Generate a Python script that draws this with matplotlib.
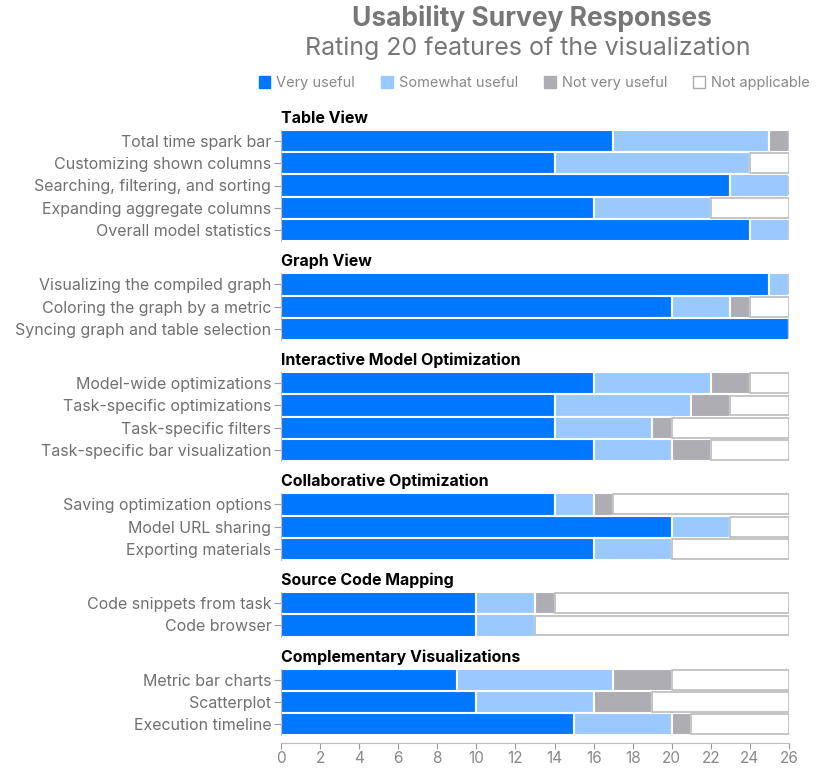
import matplotlib.pyplot as plt
from matplotlib.patches import Patch

plt.rcParams['font.family'] = ['Inter', 'DejaVu Sans']

# Survey data (counts of 26 participants)
groups = ['Table View', 'Graph View', 'Interactive Model Optimization',
          'Collaborative Optimization', 'Source Code Mapping',
          'Complementary Visualizations']
features = [
    ['Total time spark bar', 'Customizing shown columns',
     'Searching, filtering, and sorting', 'Expanding aggregate columns',
     'Overall model statistics'],
    ['Visualizing the compiled graph', 'Coloring the graph by a metric',
     'Syncing graph and table selection'],
    ['Model-wide optimizations', 'Task-specific optimizations',
     'Task-specific filters', 'Task-specific bar visualization'],
    ['Saving optimization options', 'Model URL sharing', 'Exporting materials'],
    ['Code snippets from task', 'Code browser'],
    ['Metric bar charts', 'Scatterplot', 'Execution timeline'],
]
very_useful = [[17, 14, 23, 16, 24], [25, 20, 26], [16, 14, 14, 16],
               [14, 20, 16], [10, 10], [9, 10, 15]]
somewhat_useful = [[8, 10, 3, 6, 2], [1, 3, 0], [6, 7, 5, 4],
                   [2, 3, 4], [3, 3], [8, 6, 5]]
not_very_useful = [[1, 0, 0, 0, 0], [0, 1, 0], [2, 2, 1, 2],
                   [1, 0, 0], [1, 0], [3, 3, 1]]
not_applicable = [[0, 2, 0, 4, 0], [0, 2, 0], [2, 3, 6, 4],
                  [9, 3, 6], [12, 13], [6, 7, 5]]

categories = ['Very useful', 'Somewhat useful', 'Not very useful', 'Not applicable']
colors = ['#0077ff', '#99c9ff', '#aeadb3', '#ffffff']
x_ticks = list(range(0, 27, 2))

W, H = 830, 768
fig = plt.figure(figsize=(W / 100, H / 100), dpi=100)

fig.text(532 / W, 1 - 18 / H, 'Usability Survey Responses', ha='center', va='center',
         fontsize=19, fontweight='bold', color='#777777')
fig.text(528 / W, 1 - 48 / H, 'Rating 20 features of the visualization', ha='center',
         va='center', fontsize=18, color='#777777')

handles = [Patch(facecolor=c, edgecolor=('#aaaaaa' if c == '#ffffff' else c), label=l)
           for c, l in zip(colors, categories)]
fig.legend(handles=handles, loc='center', bbox_to_anchor=(534 / W, 1 - 83 / H), ncol=4,
           frameon=False, fontsize=10.5, labelcolor='#888888', handlelength=0.8,
           handleheight=0.8, handletextpad=0.4, columnspacing=1.8)

row_h = 22.2
gap = 32.3
top = 130
left, width = 281, 508

for gi, group in enumerate(groups):
    n = len(features[gi])
    h = n * row_h
    ax = fig.add_axes([left / W, 1 - (top + h) / H, width / W, h / H])
    y = list(range(n))
    start = [0] * n
    series = [very_useful[gi], somewhat_useful[gi], not_very_useful[gi], not_applicable[gi]]
    for k, vals in enumerate(series):
        if k == 3:
            ax.barh(y, vals, left=start, height=0.9, color=colors[k],
                    edgecolor='#bbbbbb', linewidth=1.2)
        else:
            ax.barh(y, vals, left=start, height=1.0, color=colors[k],
                    edgecolor='white', linewidth=1.5)
        start = [s + v for s, v in zip(start, vals)]

    ax.set_xlim(0, 26)
    ax.set_ylim(n - 0.5, -0.5)
    ax.set_yticks(y)
    ax.set_yticklabels(features[gi], fontsize=11.5, color='#707070')
    ax.tick_params(axis='y', length=5, color='#999999', pad=2)
    for s in ['top', 'right']:
        ax.spines[s].set_visible(False)
    ax.spines['left'].set_color('#bbbbbb')
    ax.annotate(group, xy=(0, 1), xycoords='axes fraction', xytext=(0, 3),
                textcoords='offset points', ha='left', va='bottom',
                fontsize=11.5, fontweight='bold', color='black')

    if gi == len(groups) - 1:
        ax.spines['bottom'].set_position(('outward', 5.5))
        ax.spines['bottom'].set_color('#bbbbbb')
        ax.set_xticks(x_ticks)
        ax.tick_params(axis='x', length=4, color='#999999', labelsize=11,
                       labelcolor='#888888', pad=2)
    else:
        ax.spines['bottom'].set_visible(False)
        ax.set_xticks([])

    top += h + gap

fig.savefig('out.png', dpi=100)
